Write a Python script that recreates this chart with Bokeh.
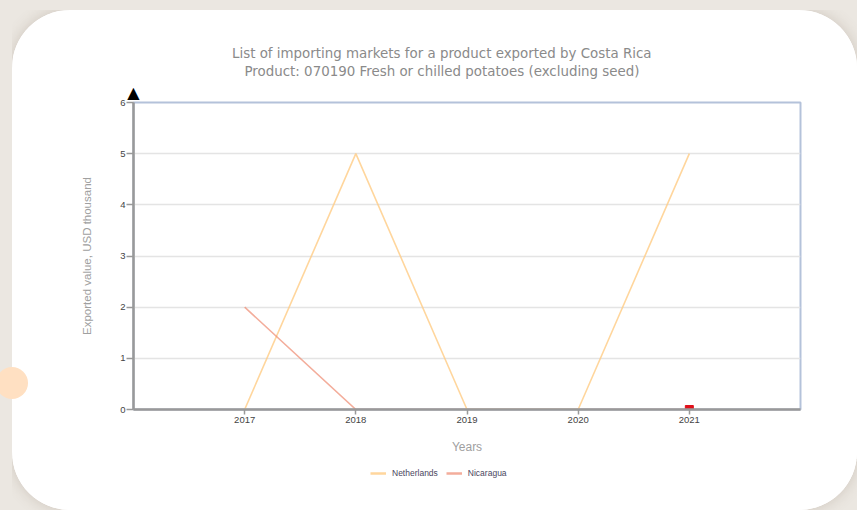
from bokeh.plotting import figure
from bokeh.layouts import column
from bokeh.models import (Legend, LegendItem, FixedTicker, Title,
                          GlobalInlineStyleSheet, Range1d)
from bokeh.embed import file_html
from bokeh.resources import INLINE

years = [2017, 2018, 2019, 2020, 2021]
netherlands = [0, 5, 0, 0, 5]
nicaragua = [2, 0, 0, 0, 0]
marker_year = [2021]
marker_value = [0]
y_ticks = [0, 1, 2, 3, 4, 5, 6]
title_lines = ["List of importing markets for a product exported by Costa Rica",
               "Product: 070190 Fresh or chilled potatoes (excluding seed)"]
series_names = ["Netherlands", "Nicaragua"]
series_values = [netherlands, nicaragua]
series_colors = ["#ffcc85", "#ee8a70"]
series_alpha = [0.8, 0.7]

p = figure(frame_width=667, frame_height=307, output_backend="svg", toolbar_location=None,
           x_range=Range1d(2016, 2022), y_range=Range1d(0, 6),
           min_border_left=121, min_border_right=57, min_border_top=92, min_border_bottom=50)
p.background_fill_color = "white"
p.border_fill_color = "white"
p.outline_line_color = "#b4c2da"
p.outline_line_width = 2

# grid
p.xgrid.grid_line_color = None
p.ygrid.grid_line_color = "#e4e4e4"
p.ygrid.grid_line_width = 1.5

# axes
p.xaxis.ticker = FixedTicker(ticks=years)
p.yaxis.ticker = FixedTicker(ticks=y_ticks)
for ax in (p.xaxis[0], p.yaxis[0]):
    ax.axis_line_color = "#999999"
    ax.axis_line_width = 2.5
    ax.major_tick_line_color = "#999999"
    ax.major_tick_line_width = 1.5
    ax.major_tick_in = 0
    ax.minor_tick_line_color = None
    ax.major_label_text_font = "Liberation Sans"
    ax.major_label_text_font_size = "9.5px"
    ax.major_label_text_color = "#444444"
    ax.axis_label_text_font = "Liberation Sans"
    ax.axis_label_text_font_style = "normal"
    ax.axis_label_text_color = "#a0a0a0"
p.xaxis.major_tick_out = 5
p.yaxis.major_tick_out = 7
p.xaxis.axis_label = "Years"
p.xaxis.axis_label_text_font_size = "12px"
p.xaxis.major_label_standoff = 2
p.xaxis.axis_label_standoff = 14
p.yaxis.axis_label = "Exported value, USD thousand"
p.yaxis.axis_label_text_font_size = "11.5px"
p.yaxis.major_label_standoff = 1
p.yaxis.axis_label_standoff = 24

# data
for vals, c, a in zip(series_values, series_colors, series_alpha):
    p.line(years, vals, line_color=c, line_alpha=a, line_width=1.6)
p.scatter(marker_year, marker_value, marker="square", size=8, fill_color="#e0101a",
          line_color="#e0101a")

# arrow head on the y axis (closest to the frame), then title line 2, then line 1
p.add_layout(Title(text="\u25B2", align="left", offset=-6.2, standoff=1.5,
                   text_font="DejaVu Sans", text_font_size="16px",
                   text_font_style="normal", text_color="black"), "above")
p.add_layout(Title(text=title_lines[1], align="left", offset=111, standoff=0.7,
                   text_font="DejaVu Sans", text_font_size="13.4px",
                   text_font_style="normal", text_color="#8a8a8a"), "above")
p.add_layout(Title(text=title_lines[0], align="left", offset=98.5, standoff=0.7,
                   text_font="DejaVu Sans", text_font_size="13.4px",
                   text_font_style="normal", text_color="#8a8a8a"), "above")

# legend in its own strip below the chart (frame aligned with the main frame)
lf = figure(width=845, height=51, output_backend="svg", toolbar_location=None,
            x_range=Range1d(0, 1), y_range=Range1d(0, 1), min_border=0)
lf.axis.visible = False
lf.grid.visible = False
lf.outline_line_color = None
lf.background_fill_color = "white"
lf.border_fill_color = "white"
lr = [lf.line(years, vals, line_color=c, line_alpha=a, line_width=2.5)
      for vals, c, a in zip(series_values, series_colors, series_alpha)]
legend = Legend(items=[LegendItem(label=n, renderers=[r]) for n, r in zip(series_names, lr)],
                orientation="horizontal", location=(237, 32),
                label_text_font="Liberation Sans", label_text_font_size="8.5px",
                label_text_color="#4a4660", glyph_width=16, glyph_height=10,
                label_standoff=6, spacing=8, padding=2, margin=0,
                border_line_color=None, background_fill_alpha=0)
lf.add_layout(legend, "center")

layout = column(p, lf, spacing=0)
layout.styles = {"border-radius": "58px", "overflow": "hidden", "background-color": "white",
                 "box-shadow": "0 0 14px rgba(120,100,80,0.25)"}
layout.stylesheets = [GlobalInlineStyleSheet(css=(
    "html,body{background:#ebe7e1;overflow:hidden;}"
    "body{margin:10px 0 0 12px !important;}"
    "body::after{content:'';position:fixed;left:-4px;top:367px;width:32px;height:32px;"
    "border-radius:50%;background:#ffe0c2;z-index:10;}"))]

open("out.html", "w").write(file_html(layout, INLINE))
